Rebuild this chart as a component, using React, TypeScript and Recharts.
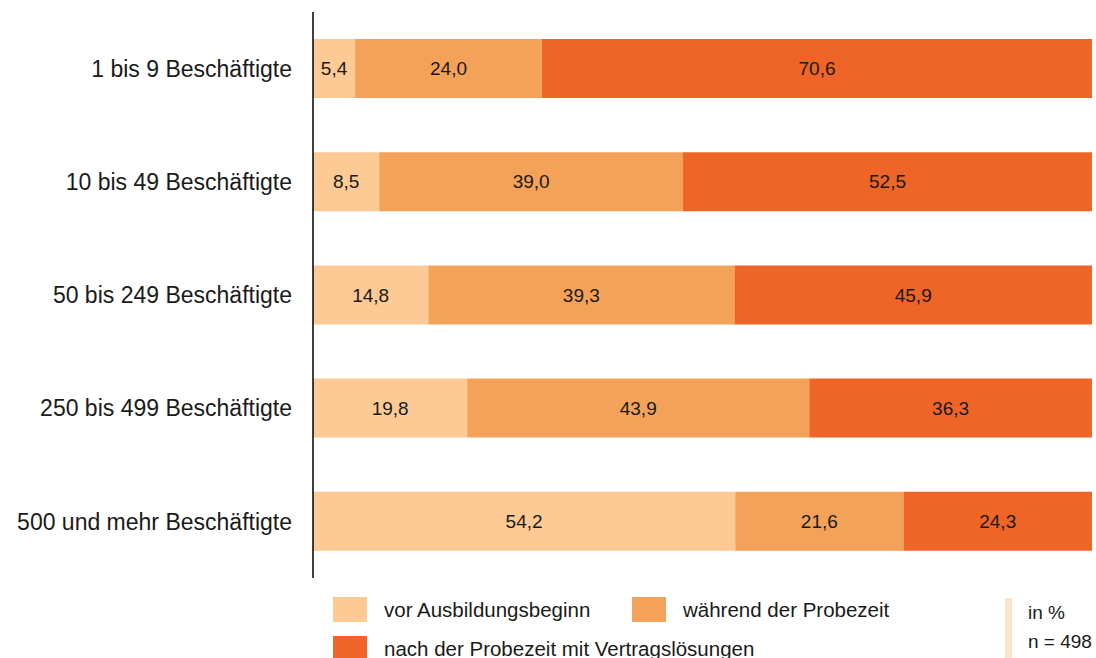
import React from 'react';
import { BarChart, Bar, XAxis, YAxis, LabelList } from 'recharts';

const categories = [
  '1 bis 9 Beschäftigte',
  '10 bis 49 Beschäftigte',
  '50 bis 249 Beschäftigte',
  '250 bis 499 Beschäftigte',
  '500 und mehr Beschäftigte',
];
const vorBeginn = [5.4, 8.5, 14.8, 19.8, 54.2];
const probezeit = [24.0, 39.0, 39.3, 43.9, 21.6];
const nachProbezeit = [70.6, 52.5, 45.9, 36.3, 24.3];

const seriesNames = [
  'vor Ausbildungsbeginn',
  'während der Probezeit',
  'nach der Probezeit mit Vertragslösungen',
];

const COLORS = ['#FDCA96', '#F4A25A', '#EF6427'];
const FONT = '"Liberation Sans", Arial, sans-serif';

const data = categories.map((name, i) => ({
  name,
  vor: vorBeginn[i],
  waehrend: probezeit[i],
  nach: nachProbezeit[i],
}));

const fmt = (v: any) => Number(v).toFixed(1).replace('.', ',');
const labelStyle = { fontSize: 19, fill: '#1a1a1a', fontFamily: FONT };

const LegendItem = ({ color, label, x, y }: { color: string; label: string; x: number; y: number }) => (
  <div style={{ position: 'absolute', left: x, top: y, display: 'flex', alignItems: 'center' }}>
    <div style={{ width: 34, height: 25, background: color }} />
    <span style={{ marginLeft: 17, fontSize: 20.5, color: '#1a1a1a', whiteSpace: 'nowrap' }}>{label}</span>
  </div>
);

const App: React.FC = () => {
  return (
    <div style={{ position: 'absolute', left: 0, top: 0, width: 1096, height: 658, background: '#fff', fontFamily: FONT, overflow: 'hidden' }}>
      <BarChart
        width={1096}
        height={658}
        data={data}
        layout="vertical"
        margin={{ top: 12, right: 4, bottom: 80, left: 0 }}
        barSize={59}
      >
        <XAxis type="number" domain={[0, 100]} allowDataOverflow hide />
        <YAxis
          type="category"
          dataKey="name"
          width={313}
          axisLine={{ stroke: '#000', strokeWidth: 1.5 }}
          tickLine={false}
          tickSize={0}
          tickMargin={21}
          tick={{ fontSize: 23, fill: '#1a1a1a', fontFamily: FONT }}
        />
        <Bar dataKey="vor" stackId="a" fill={COLORS[0]} isAnimationActive={false}>
          <LabelList dataKey="vor" position="center" formatter={fmt} style={labelStyle} />
        </Bar>
        <Bar dataKey="waehrend" stackId="a" fill={COLORS[1]} isAnimationActive={false}>
          <LabelList dataKey="waehrend" position="center" formatter={fmt} style={labelStyle} />
        </Bar>
        <Bar dataKey="nach" stackId="a" fill={COLORS[2]} isAnimationActive={false}>
          <LabelList dataKey="nach" position="center" formatter={fmt} style={labelStyle} />
        </Bar>
      </BarChart>

      <LegendItem color={COLORS[0]} label={seriesNames[0]} x={333} y={597} />
      <LegendItem color={COLORS[1]} label={seriesNames[1]} x={632} y={597} />
      <LegendItem color={COLORS[2]} label={seriesNames[2]} x={333} y={636} />

      <div style={{ position: 'absolute', left: 1005, top: 598, width: 7, height: 60, background: '#FDE3CC' }} />
      <div style={{ position: 'absolute', left: 1028, top: 598, fontSize: 19, color: '#1a1a1a', lineHeight: '29px' }}>
        <div>in %</div>
        <div>n = 498</div>
      </div>
    </div>
  );
};

export default App;
